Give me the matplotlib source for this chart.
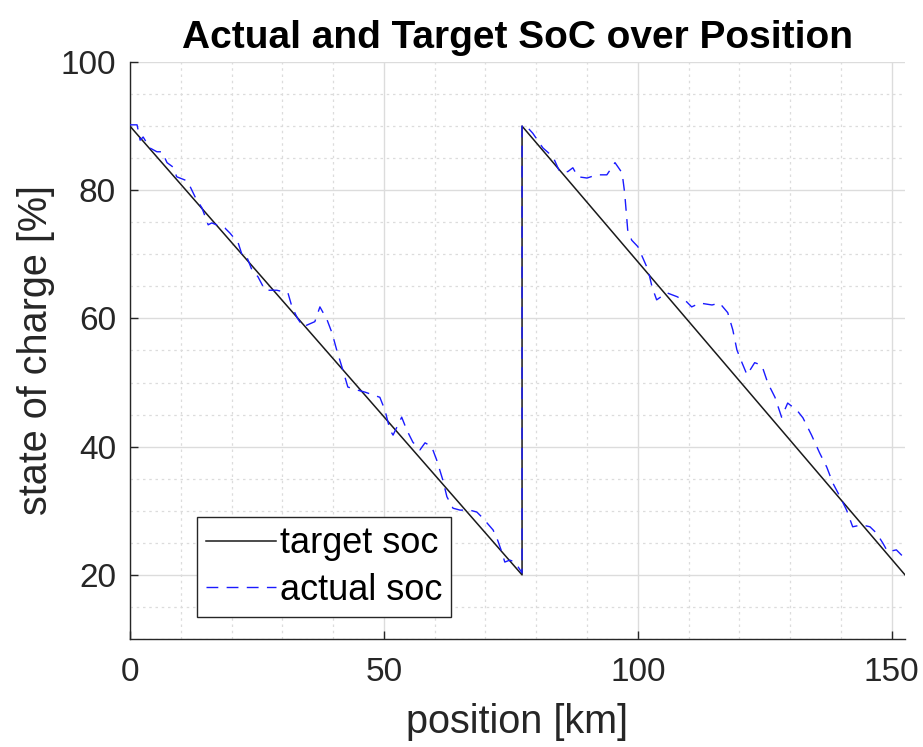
import matplotlib
matplotlib.use("Agg")
import matplotlib.pyplot as plt
from matplotlib.ticker import MultipleLocator

plt.rcParams['font.family'] = ['Liberation Sans', 'DejaVu Sans']

target_km = [0, 77.2, 77.2, 152.6]
target_soc = [90, 20, 90, 20]

actual_km = [0, 1.4, 2, 2.6, 3.9, 5.3, 6.3, 7.3, 8.5, 9.2, 10.8, 11.4, 12.8, 14.2, 15.4, 16.1,
             18.7, 19.7, 21.3, 22.2, 23, 24, 25.2, 26.6, 28.9, 31.1, 31.9, 33, 34.1, 36.4, 37.4,
             38.8, 39.8, 40.7, 41.9, 42.9, 44.9, 46.3, 49.2, 50.2, 51.2, 51.8, 53.5, 54.5, 55.7,
             57.1, 58.1, 59.4, 60.4, 61.6, 62.4, 63.6, 65, 66.9, 68.3, 69.3, 70.3, 71.5, 72.4,
             73.2, 73.8, 74.8, 75.8, 77.2, 77.2, 77.8, 79.3, 81.3, 83.3, 84.6, 86.2, 87.2, 88.2,
             90, 91.9, 93.9, 95.5, 96.9, 97.4, 97.8, 98, 98.8, 100, 102, 102.8, 103.7, 105.7,
             107.7, 109.6, 110.6, 112.2, 114.6, 116.1, 117.7, 118.7, 119.5, 120.5, 121.5, 123,
             124.4, 125.6, 127, 128.3, 129.5, 131.3, 132.5, 134.2, 135.8, 137.2, 138.4, 139.8,
             141.1, 142.3, 144.1, 145.7, 147, 148.2, 149.2, 150.9, 151.9, 152.6]
actual_soc = [90.2, 90.2, 87.8, 88.3, 86.6, 86.0, 86, 84.3, 83.6, 82.1, 81.6, 81.3, 79, 77.2, 74.6,
              74.9, 74.1, 73.3, 71.8, 69.6, 69.6, 67.6, 66.5, 64.4, 64.4, 64.0, 61.8, 60, 58.7,
              59.5, 61.8, 59.8, 57.7, 55.1, 52, 49.3, 48.8, 48.5, 47.7, 45.7, 42.6, 41.8, 44.6,
              42.6, 40.7, 39.5, 40.6, 40, 37.9, 34.8, 32.2, 30.4, 30.1, 30.1, 29.8, 29, 28.1, 27,
              25.4, 23.6, 22, 22.3, 22, 20.3, 90, 90.2, 88.9, 86.6, 85.2, 82.9, 82.9, 83.5, 82.1,
              81.9, 82.4, 82.4, 84.3, 82.7, 79.6, 75.8, 73.8, 72.2, 71.2, 67.6, 64.9, 62.9, 64,
              63.4, 62.6, 61.8, 62.4, 62.1, 62.4, 60.9, 58.2, 55.1, 53.1, 51.2, 53.1, 52.7, 49.9,
              47.7, 44.6, 46.8, 45.7, 44.5, 41.8, 39, 36.8, 34.3, 32.2, 30.1, 27.5, 27.8, 27.5,
              26.5, 25, 23.6, 23.9, 23.1, 22.5]

x_ticks = [0, 50, 100, 150]
y_ticks = [20, 40, 60, 80, 100]

fig = plt.figure(figsize=(9.23, 7.47), dpi=100)
ax = fig.add_axes([0.1408, 0.1446, 0.8397, 0.7724])

ax.plot(target_km, target_soc, color='#1a1a1a', lw=1.1, label='target soc', zorder=3)
ax.plot(actual_km, actual_soc, color='#1a1aff', lw=1.0, dashes=(8.5, 6), label='actual soc', zorder=4)

ax.set_xlim(0, 152.6)
ax.set_ylim(10, 100)
ax.set_xticks(x_ticks)
ax.set_yticks(y_ticks)
ax.xaxis.set_minor_locator(MultipleLocator(10))
ax.yaxis.set_minor_locator(MultipleLocator(5))

ax.grid(True, which='major', color='#dcdcdc', lw=1.0, zorder=0)
ax.grid(True, which='minor', color='#dcdcdc', lw=0.9, linestyle=(0, (2, 3)), zorder=0)
ax.set_axisbelow(True)

for s in ['top', 'right']:
    ax.spines[s].set_visible(False)
for s in ['left', 'bottom']:
    ax.spines[s].set_color('#262626')
    ax.spines[s].set_linewidth(1.0)

ax.tick_params(which='major', direction='in', length=6, width=1, colors='#262626',
               labelsize=24)
ax.tick_params(axis='x', which='major', pad=13)
ax.tick_params(axis='y', which='major', pad=10)
ax.tick_params(which='minor', length=0)

ax.set_title('Actual and Target SoC over Position', fontsize=28, fontweight='bold', pad=10)
ax.set_xlabel('position [km]', fontsize=28.5, color='#262626', labelpad=11)
ax.set_ylabel('state of charge [%]', fontsize=28.5, color='#262626', labelpad=4)

leg = ax.legend(loc='lower left', bbox_to_anchor=(0.0865, 0.038), fontsize=26,
                frameon=True, fancybox=False, framealpha=1, edgecolor='#262626',
                handlelength=1.95, handletextpad=0.1, borderpad=0.25, labelspacing=0.32,
                borderaxespad=0)
leg.get_frame().set_linewidth(1.0)

fig.savefig('out.png', dpi=100)
